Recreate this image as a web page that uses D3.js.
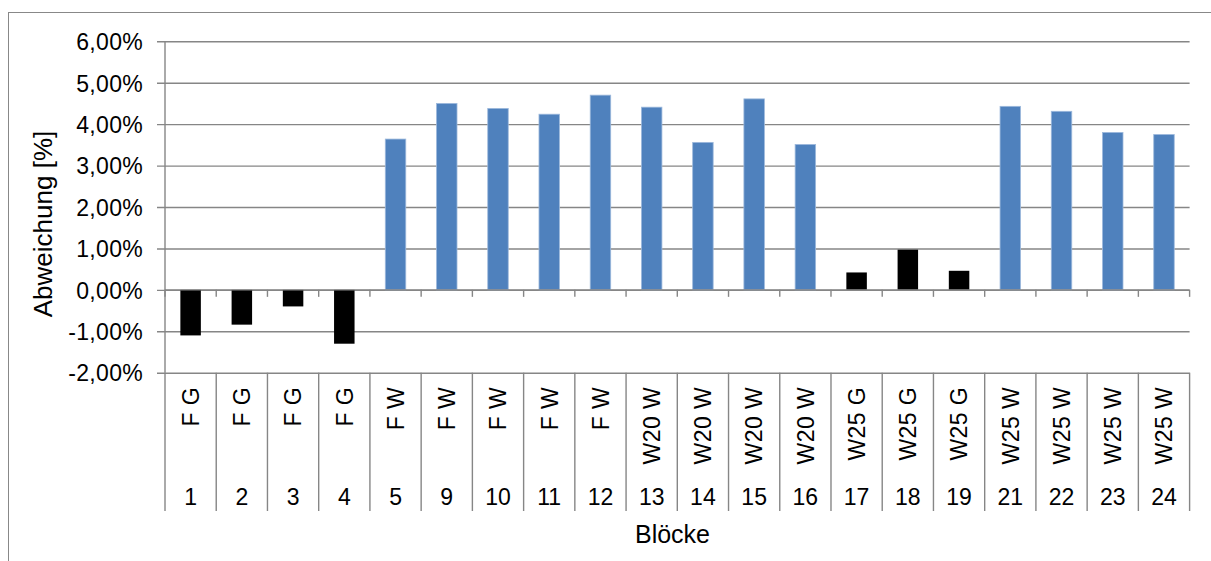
<!DOCTYPE html>
<html>
<head>
<meta charset="utf-8">
<script src="https://cdn.jsdelivr.net/npm/d3@7"></script>
<style>
  html, body { margin: 0; padding: 0; background: #fff; }
  svg { display: block; font-family: "Liberation Sans", Arial, sans-serif; }
</style>
</head>
<body>
<svg id="chart" width="1211" height="561"></svg>
<script>
// ---- data ----
const blocks = ["1","2","3","4","5","9","10","11","12","13","14","15","16","17","18","19","21","22","23","24"];
const groups = ["F G","F G","F G","F G","F W","F W","F W","F W","F W","W20 W","W20 W","W20 W","W20 W","W25 G","W25 G","W25 G","W25 W","W25 W","W25 W","W25 W"];
const values = [-0.0110,-0.0084,-0.0040,-0.0130,0.0364,0.0450,0.0438,0.0424,0.0470,0.0441,0.0356,0.0461,0.0351,0.0042,0.0097,0.0046,0.0443,0.0431,0.0380,0.0375];
const yTicks = [-0.02,-0.01,0,0.01,0.02,0.03,0.04,0.05,0.06];
const yTitle = "Abweichung [%]";
const xTitle = "Blöcke";

(function () {
const svg = d3.select("#chart");
const W = 1211, H = 561;
const pLeft = 165, pRight = 1189.6, pTop = 41.3, pBottom = 372.7;
const gridColor = "#868686";

const locale = d3.formatLocale({decimal: ",", thousands: ".", grouping: [3], currency: ["", " €"], minus: "-"});
const fmt = locale.format(".2%");

const idx = blocks.map((d, i) => i);
const x = d3.scaleBand().domain(idx).range([pLeft, pRight]).paddingInner(0.6).paddingOuter(0.3);
const xCell = d3.scaleBand().domain(idx).range([pLeft, pRight]).padding(0);
const y = d3.scaleLinear().domain([-0.02, 0.06]).range([pBottom, pTop]);

// outer border
svg.append("rect").attr("x", 8.5).attr("y", 12.5).attr("width", W + 20).attr("height", H + 20)
  .attr("fill", "none").attr("stroke", "#888").attr("stroke-width", 1);

// gridlines + y ticks
const yAxis = d3.axisLeft(y).tickValues(yTicks).tickSize(-(pRight - pLeft)).tickSizeOuter(0).tickFormat(fmt);
const gy = svg.append("g").attr("transform", `translate(${pLeft},0)`).call(yAxis);
gy.select(".domain").remove();
gy.selectAll(".tick line").attr("stroke", gridColor).attr("stroke-width", 1.4).attr("x1", -8);
gy.selectAll(".tick text").attr("font-size", 23).attr("fill", "#000").attr("x", -22).attr("dy", "0.36em")
  .attr("letter-spacing", 0.3);

// y axis line
svg.append("line").attr("x1", pLeft).attr("x2", pLeft).attr("y1", pTop).attr("y2", pBottom)
  .attr("stroke", gridColor).attr("stroke-width", 1.4);

// bars
svg.append("g").selectAll("rect").data(values).join("rect")
  .attr("x", (d, i) => x(i))
  .attr("width", x.bandwidth())
  .attr("y", d => y(Math.max(0, d)))
  .attr("height", d => Math.abs(y(d) - y(0)))
  .attr("fill", (d, i) => groups[i].endsWith("G") ? "#000000" : "#4F81BD")
  .attr("stroke", (d, i) => groups[i].endsWith("G") ? "none" : "#9DB9DC")
  .attr("stroke-width", 0.8);

// zero line with tick marks
svg.append("line").attr("x1", pLeft).attr("x2", pRight).attr("y1", y(0)).attr("y2", y(0))
  .attr("stroke", gridColor).attr("stroke-width", 1.4);
const bounds = idx.map(i => xCell(i)).concat([pRight]);
svg.append("g").selectAll("line").data(bounds).join("line")
  .attr("x1", d => d).attr("x2", d => d)
  .attr("y1", y(0)).attr("y2", y(0) + 7)
  .attr("stroke", gridColor).attr("stroke-width", 1.4);

// category table vertical separators
svg.append("g").selectAll("line").data(bounds).join("line")
  .attr("x1", d => d).attr("x2", d => d)
  .attr("y1", pBottom).attr("y2", 511)
  .attr("stroke", gridColor).attr("stroke-width", 1.4);

// inner labels (rotated)
svg.append("g").selectAll("text").data(groups).join("text")
  .attr("transform", (d, i) => `translate(${xCell(i) + xCell.bandwidth() / 2},387) rotate(-90)`)
  .attr("text-anchor", "end")
  .attr("dy", "0.36em")
  .attr("font-size", 23)
  .attr("letter-spacing", 0.4)
  .attr("fill", "#000")
  .text(d => d);

// outer labels (block numbers)
svg.append("g").selectAll("text").data(blocks).join("text")
  .attr("x", (d, i) => xCell(i) + xCell.bandwidth() / 2)
  .attr("y", 505)
  .attr("text-anchor", "middle")
  .attr("font-size", 23)
  .attr("fill", "#000")
  .text(d => d);

// axis titles
svg.append("text").attr("transform", "translate(52,224) rotate(-90)")
  .attr("text-anchor", "middle").attr("font-size", 26).attr("fill", "#000").text(yTitle);
svg.append("text").attr("x", 672.5).attr("y", 543)
  .attr("text-anchor", "middle").attr("font-size", 25).attr("fill", "#000").text(xTitle);
})();
</script>
</body>
</html>
